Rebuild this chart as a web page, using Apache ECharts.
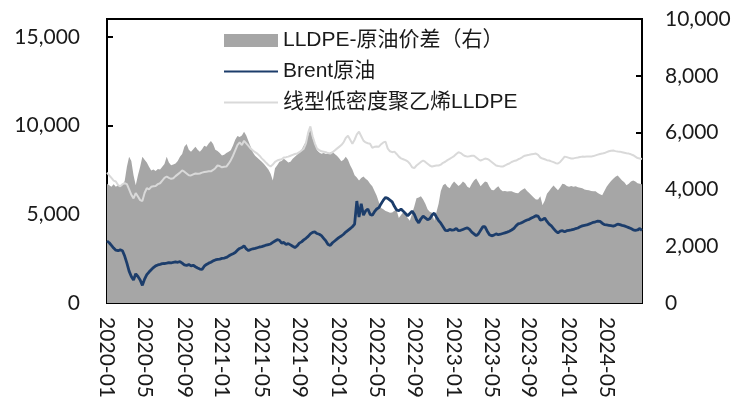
<!DOCTYPE html>
<html>
<head>
<meta charset="utf-8">
<script src="https://cdn.jsdelivr.net/npm/echarts@6/dist/echarts.min.js"></script>
<style>
  html, body { margin: 0; padding: 0; background: #fff; }
  #chart { width: 734px; height: 401px; }
</style>
</head>
<body>
<div id="chart"></div>
<script>
// Weekly observations, first week ending 2020-01-03
const tickLabels = ['2020-01', '2020-05', '2020-09', '2021-01', '2021-05', '2021-09', '2022-01',
  '2022-05', '2022-09', '2023-01', '2023-05', '2023-09', '2024-01', '2024-05'];

const seriesNames = ['LLDPE-原油价差（右）', 'Brent原油', '线型低密度聚乙烯LLDPE'];

// LLDPE minus crude spread, yuan/ton (right axis)
const spread = [
  4200, 4150, 4100, 4180, 4100, 4150, 4120, 4150, 4300, 4800,
  5150, 5000, 4500, 4150, 4500, 4800, 5150, 5050, 4950, 4800,
  4670, 4700, 4650, 4720, 4700, 4800, 4900, 5150, 4950, 4850,
  4880, 4910, 5000, 5150, 5250, 5500, 5600, 5400, 5330, 5420,
  5500, 5400, 5330, 5420, 5540, 5500, 5620, 5710, 5600, 5400,
  5350, 5280, 5200, 5220, 5280, 5330, 5380, 5550, 5750, 5880,
  5850, 5900, 6030, 5900, 5700, 5500, 5300, 5190, 5120, 5050,
  4980, 4900, 4800, 4700, 4550, 4320, 4750, 4850, 4980, 5000,
  5080, 5020, 4950, 4980, 5080, 5150, 5220, 5300, 5400, 5550,
  5700, 5900, 6130, 5800, 5600, 5380, 5300, 5260, 5280, 5250,
  5270, 5300, 5330, 5250, 5190, 5100, 4990, 5050, 5150, 5050,
  4850, 4700, 4500, 4420, 4320, 4400, 4460, 4380, 4320, 4200,
  4110, 3950, 3780, 3550, 3350, 3300, 3240, 3220, 3180, 3190,
  3250, 3270, 3000, 3100, 3200, 3150, 3000, 2900, 3150, 3400,
  3690, 3720, 3760, 3650, 3500, 3300, 3220, 3180, 2900, 3200,
  3500, 3950, 4150, 4200, 4100, 4040, 4180, 4280, 4200, 4120,
  4180, 4280, 4220, 4100, 4050, 4200, 4320, 4390, 4250, 4110,
  4200, 4280, 4250, 4100, 3980, 3970, 4050, 4110, 4000, 3935,
  3950, 3930, 3940, 3935, 3900, 3880, 3870, 3950, 4000, 4040,
  3950, 3880, 3800, 3720, 3650, 3650, 3760, 3450, 3600, 3850,
  3950, 4050, 4140, 4050, 3970, 4080, 4200, 4180, 4120, 4100,
  4120, 4100, 4110, 4080, 4060, 4040, 4000, 3980, 3970, 3950,
  3940, 3935, 3880, 3830, 3800, 3950, 4100, 4200, 4300, 4380,
  4450, 4490, 4400, 4320, 4250, 4150, 4200, 4280, 4320, 4280,
  4220, 4200, 4180
];

// Brent crude, yuan/ton (left axis)
const brent = [
  3500, 3400, 3250, 3100, 2980, 2950, 3000, 2950, 2650, 2250,
  1800, 1500, 1300, 1650, 1500, 1300, 1000, 1350, 1600, 1750,
  1880, 2000, 2100, 2150, 2180, 2220, 2230, 2250, 2280, 2260,
  2300, 2320, 2300, 2340, 2250, 2150, 2120, 2180, 2100, 2130,
  2050, 1980, 1920, 1900, 2080, 2180, 2250, 2300, 2380, 2430,
  2460, 2480, 2520, 2540, 2570, 2650, 2720, 2780, 2850, 2980,
  3080, 3130, 3230, 3050, 2960, 3020, 3060, 3080, 3120, 3160,
  3180, 3220, 3270, 3300, 3330, 3420, 3500, 3570, 3540, 3380,
  3420, 3300, 3350, 3280, 3200, 3130, 3220, 3380, 3450, 3560,
  3650, 3760, 3900, 3980, 4010, 3920, 3880, 3800, 3650, 3500,
  3300, 3250, 3400, 3500, 3600, 3700, 3780, 3880, 4000, 4100,
  4200, 4300, 4450, 5750, 4850, 5600, 4950, 5200, 5300, 5000,
  4950, 5150, 5300, 5380, 5600, 5800, 5950, 5900, 5800, 5700,
  5450, 5250, 5200, 5300, 5180, 5050, 4920, 5050, 5180, 5000,
  4700, 4520, 4750, 4900, 4800, 4700, 4750, 4950, 5070, 4850,
  4650, 4500, 4300, 4100, 4080, 4150, 4110, 4130, 4200, 4080,
  4100, 4150, 4200, 4240, 4150, 4000, 3900, 3790, 3900, 4100,
  4300, 4300, 4050, 3850, 3790, 3830, 3900, 3850, 3880, 3920,
  3960, 4000, 4050, 4120, 4200, 4350, 4460, 4500, 4560, 4620,
  4680, 4720, 4790, 4850, 4920, 4900, 4680, 4700, 4790, 4600,
  4450, 4350, 4200, 4050, 3960, 4050, 4080, 4020, 4080, 4100,
  4120, 4150, 4200, 4230, 4300, 4350, 4380, 4400, 4450, 4500,
  4550, 4580, 4620, 4600, 4500, 4420, 4400, 4380, 4360, 4340,
  4380, 4450, 4420, 4380, 4350, 4300, 4250, 4200, 4130, 4100,
  4120, 4200, 4100
];

// LLDPE price, yuan/ton (left axis)
const lldpe = [
  7350, 7200, 7050, 6900, 6850, 6650, 6580, 6700, 6750, 6700,
  6400, 6100, 5900, 6200, 6000, 5800, 5750, 6200, 6470, 6400,
  6550, 6580, 6600, 6700, 6750, 6900, 7050, 7130, 7050, 7000,
  7030, 7150, 7250, 7350, 7470, 7400, 7300, 7200, 7190, 7250,
  7300, 7280, 7300, 7350, 7380, 7400, 7420, 7420, 7500, 7600,
  7750, 7720, 7650, 7680, 7690, 7850, 8050, 8300, 8600, 8900,
  9050, 8900, 9140, 9000, 8850, 8700, 8600, 8500, 8420, 8300,
  8150, 8030, 7900, 7780, 7690, 7800, 7950, 8030, 8080, 8100,
  8200, 8220, 8250, 8300, 8350, 8400, 8420, 8500, 8600, 8700,
  9000, 9600, 9950, 9400, 9000, 8700, 8620, 8550, 8530, 8500,
  8450, 8420, 8500, 8600, 8700, 8800, 8900, 9050, 9300, 9420,
  9200, 8980, 9200, 9500, 9650, 9400, 9150, 9050, 9000, 8980,
  8750, 8800, 8820, 8810, 8950, 9050, 9090, 8700, 8550, 8500,
  8530, 8400, 8250, 8150, 8100, 8050, 7980, 7850, 7650, 7600,
  7750, 7850, 7950, 8030, 7950, 7850, 7750, 7690, 7720, 7750,
  7750, 7800, 7900, 7960, 8050, 8120, 8200, 8280, 8400, 8500,
  8450, 8350, 8280, 8250, 8270, 8300, 8300, 8200, 8100, 8030,
  8080, 8140, 8120, 8050, 7950, 7850, 7750, 7720, 7700, 7690,
  7750, 7820, 7860, 7950, 8000, 8030, 8100, 8150, 8230, 8300,
  8330, 8350, 8380, 8400, 8420, 8350, 8200, 8140, 8100, 8050,
  8030, 7980, 7940, 7880, 7860, 7950, 8100, 8250, 8220, 8180,
  8140, 8150, 8180, 8200, 8230, 8250, 8240, 8250, 8260, 8250,
  8280, 8320, 8360, 8400, 8420, 8450, 8500, 8550, 8580, 8590,
  8560, 8540, 8530, 8500, 8470, 8440, 8420, 8380, 8330, 8250,
  8170, 8140, 8120
];

// Weekly category dates
const dates = [];
for (let i = 0; i < spread.length; i++) {
  dates.push(new Date(Date.UTC(2020, 0, 3) + i * 7 * 86400000).toISOString().slice(0, 10));
}
const tickIndex = new Set(tickLabels.map(m => dates.findIndex(d => d.startsWith(m))));

function thousands(v) {
  return String(v).replace(/\B(?=(\d{3})+(?!\d))/g, ',');
}

const axisColor = '#000';
const labelFont = { fontFamily: 'Lato', fontSize: 21, color: '#1a1a1a' };
const colors = { spread: '#a6a6a6', brent: '#1c3d6b', lldpe: '#d9d9d9' };

const chart = echarts.init(document.getElementById('chart'));
chart.setOption({
  animation: false,
  backgroundColor: '#fff',
  grid: { left: 107, right: 92, top: 19, bottom: 95, show: true, borderColor: axisColor, borderWidth: 2 },
  legend: {
    orient: 'vertical',
    left: 218,
    top: 25,
    itemWidth: 54,
    itemHeight: 13,
    itemGap: 10,
    itemTextGap: 8,
    textStyle: { fontSize: 21, fontFamily: '"Liberation Sans", "Noto Sans CJK SC"', color: '#1a1a1a' },
    data: [
      { name: seriesNames[0], icon: 'rect' },
      // line-only keys: the marker dot is hidden
      { name: seriesNames[1], itemStyle: { opacity: 0 } },
      { name: seriesNames[2], itemStyle: { opacity: 0 } }
    ]
  },
  xAxis: {
    type: 'category',
    data: dates,
    boundaryGap: false,
    axisLine: { lineStyle: { color: axisColor, width: 2 } },
    axisTick: { inside: true, length: 6, interval: i => tickIndex.has(i), lineStyle: { color: axisColor, width: 2 } },
    axisLabel: Object.assign({ rotate: -90, margin: 14, interval: i => tickIndex.has(i), formatter: v => v.slice(0, 7) }, labelFont),
    splitLine: { show: false }
  },
  yAxis: [
    {
      type: 'value', position: 'left', min: 0, max: 16000, interval: 5000,
      axisLine: { show: true, lineStyle: { color: axisColor, width: 2 } },
      axisTick: { show: true, inside: true, length: 6, lineStyle: { color: axisColor, width: 2 } },
      axisLabel: Object.assign({ margin: 27, formatter: v => (v > 15000 ? '' : thousands(v)) }, labelFont),
      splitLine: { show: false }
    },
    {
      type: 'value', position: 'right', min: 0, max: 10000, interval: 2000,
      axisLine: { show: true, lineStyle: { color: axisColor, width: 2 } },
      axisTick: { show: true, inside: true, length: 6, lineStyle: { color: axisColor, width: 2 } },
      axisLabel: Object.assign({ margin: 23, formatter: v => thousands(v) }, labelFont),
      splitLine: { show: false }
    }
  ],
  series: [
    {
      name: seriesNames[0], type: 'line', yAxisIndex: 1, data: spread, symbol: 'none',
      lineStyle: { width: 0 }, itemStyle: { color: colors.spread },
      areaStyle: { color: colors.spread, opacity: 1 }, z: 1
    },
    {
      name: seriesNames[2], type: 'line', yAxisIndex: 0, data: lldpe, symbol: 'none',
      lineStyle: { color: colors.lldpe, width: 2 }, itemStyle: { color: colors.lldpe }, z: 2
    },
    {
      name: seriesNames[1], type: 'line', yAxisIndex: 0, data: brent, symbol: 'none',
      lineStyle: { color: colors.brent, width: 2.8 }, itemStyle: { color: colors.brent }, z: 3
    }
  ]
});
</script>
</body>
</html>
